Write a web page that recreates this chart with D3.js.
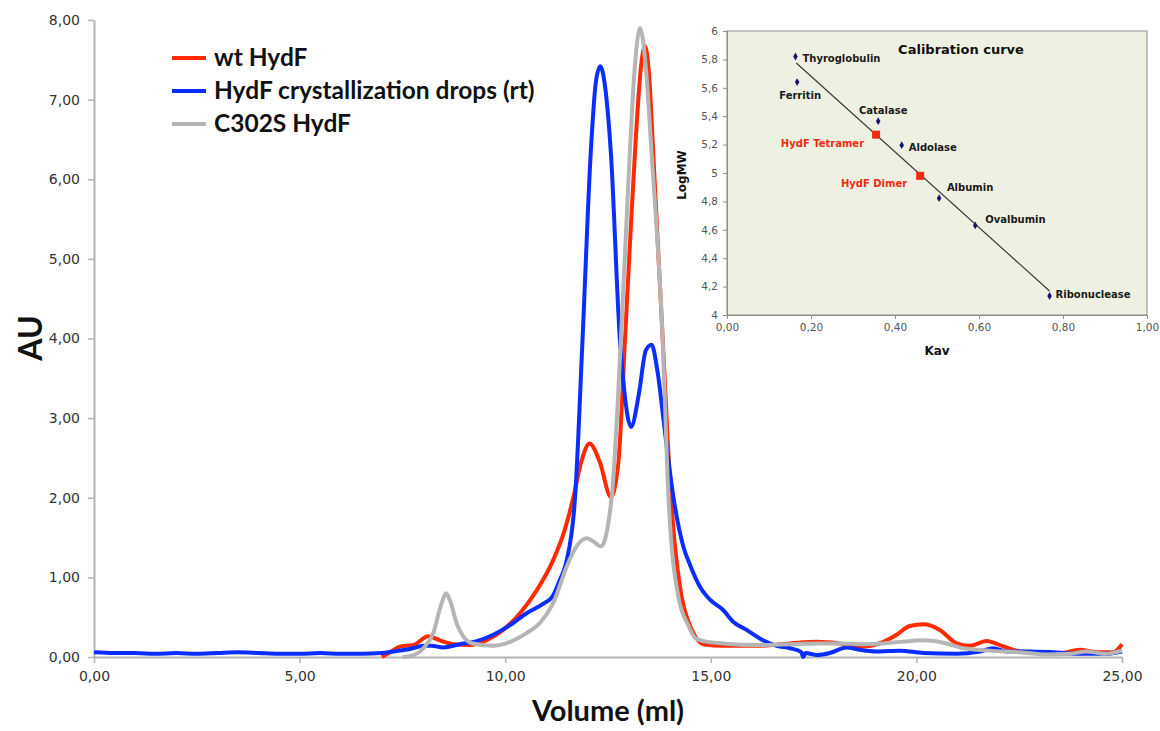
<!DOCTYPE html>
<html>
<head>
<meta charset="utf-8">
<script src="https://cdn.jsdelivr.net/npm/d3@7"></script>
<style>
  body { margin: 0; background: #fff; }
  text { font-family: "DejaVu Sans", Verdana, sans-serif; }
</style>
</head>
<body>
<svg id="viz" width="1160" height="731"></svg>
<script>
// chromatogram traces, [volume (ml), AU]
const wtHydF = [[7.0,0.0],[7.2,0.06],[7.44,0.13],[7.77,0.15],[8.13,0.26],[8.41,0.21],[8.74,0.16],[9.14,0.15],
  [9.55,0.21],[9.95,0.34],[10.36,0.55],[10.77,0.84],[11.17,1.22],[11.45,1.6],[11.66,2.01],[11.85,2.45],
  [12.05,2.68],[12.3,2.45],[12.57,2.01],[12.75,2.43],[12.92,4.05],[13.05,5.35],[13.18,6.55],[13.3,7.4],
  [13.4,7.67],[13.5,7.3],[13.6,6.33],[13.72,5.1],[13.83,4.0],[14.03,2.01],[14.29,0.76],[14.45,0.45],
  [14.62,0.26],[14.82,0.16],[15.3,0.14],[16.12,0.14],[16.93,0.17],[17.58,0.19],[18.14,0.17],[18.71,0.13],
  [19.1,0.17],[19.52,0.28],[19.84,0.39],[20.17,0.41],[20.57,0.34],[20.98,0.17],[21.3,0.14],[21.71,0.2],
  [22.03,0.15],[22.52,0.07],[23.0,0.05],[23.49,0.05],[23.98,0.09],[24.38,0.06],[24.79,0.06],[25.0,0.16]];

const dropsHydF = [[0,0.06],[0.5,0.05],[1,0.05],[1.5,0.04],[2,0.05],[2.5,0.04],[3,0.05],[3.5,0.06],[4,0.05],
  [4.5,0.04],[5,0.04],[5.5,0.05],[6,0.04],[6.5,0.04],[7,0.05],[7.28,0.07],[7.68,0.1],[8.01,0.14],[8.21,0.14],
  [8.49,0.12],[8.9,0.16],[9.31,0.2],[9.71,0.28],[10.12,0.4],[10.52,0.55],[10.93,0.67],[11.15,0.76],
  [11.33,0.97],[11.48,1.18],[11.7,2.01],[11.88,3.98],[12.08,6.33],[12.2,7.2],[12.31,7.42],[12.42,7.2],
  [12.57,6.33],[12.79,3.98],[12.87,3.48],[13.06,2.89],[13.25,3.3],[13.42,3.85],[13.56,3.92],[13.7,3.6],
  [13.88,2.85],[14.09,2.01],[14.33,1.39],[14.5,1.15],[14.74,0.88],[14.98,0.72],[15.3,0.59],[15.55,0.44],
  [15.87,0.34],[16.2,0.23],[16.6,0.14],[16.93,0.11],[17.2,0.06],[17.25,0.0],[17.3,0.05],[17.58,0.025],
  [17.9,0.05],[18.3,0.12],[18.63,0.09],[19.03,0.07],[19.6,0.08],[20.17,0.05],[20.98,0.04],[21.55,0.07],
  [21.87,0.11],[22.19,0.07],[22.76,0.07],[23.33,0.06],[23.98,0.04],[24.6,0.04],[25,0.07]];

const c302sHydF = [[7.5,0.0],[7.68,0.01],[8.01,0.11],[8.25,0.3],[8.45,0.67],[8.56,0.8],[8.67,0.69],[8.82,0.42],
  [8.98,0.26],[9.22,0.17],[9.71,0.14],[10.12,0.19],[10.52,0.3],[10.85,0.43],[11.17,0.68],[11.53,1.18],
  [11.75,1.4],[11.98,1.49],[12.15,1.45],[12.33,1.39],[12.59,2.01],[12.82,4.05],[13.03,6.33],[13.15,7.4],
  [13.28,7.9],[13.42,7.4],[13.56,6.33],[13.83,3.98],[13.97,2.01],[14.21,0.76],[14.45,0.4],[14.62,0.24],
  [14.82,0.2],[15.3,0.17],[16.12,0.15],[16.93,0.16],[17.58,0.17],[18.14,0.17],[18.71,0.16],[19.2,0.17],
  [19.6,0.19],[20.17,0.21],[20.65,0.18],[21.14,0.11],[21.79,0.08],[22.52,0.06],[23.17,0.03],[23.74,0.04],
  [24.14,0.07],[24.6,0.04],[25,0.08]];

const seriesNames = ["wt HydF", "HydF crystallization drops (rt)", "C302S HydF"];
const xTicks = [0, 5, 10, 15, 20, 25];
const yTicks = [0, 1, 2, 3, 4, 5, 6, 7, 8];

// calibration curve (inset)
const standardNames = ["Thyroglobulin", "Ferritin", "Catalase", "Aldolase", "Albumin", "Ovalbumin", "Ribonuclease"];
const standardKav = [0.163, 0.167, 0.36, 0.416, 0.505, 0.591, 0.768];
const standardLogMW = [5.82, 5.64, 5.365, 5.196, 4.823, 4.631, 4.134];
const hydfNames = ["HydF Tetramer", "HydF Dimer"];
const hydfKav = [0.355, 0.46];
const hydfLogMW = [5.27, 4.98];
const fitKav = [0.165, 0.768];
const fitLogMW = [5.775, 4.169];
const kavTicks = [0, 0.2, 0.4, 0.6, 0.8, 1.0];
const logTicks = [4, 4.2, 4.4, 4.6, 4.8, 5, 5.2, 5.4, 5.6, 5.8, 6];

// label placement for the inset (px from the point)
const standardLabelPos = [[7, 5, "start"], [3, 17, "middle"], [5, -7, "middle"], [7, 6, "start"],
  [31, -7, "middle"], [10, -2, "start"], [6, 2, "start"]];
const hydfLabelPos = [[-12, 12], [-13, 11]];

const comma = d => d3.format(".2f")(d).replace(".", ",");
const commaShort = d => String(d).replace(".", ",");

let svg = d3.select("#viz");

let x = d3.scaleLinear().domain([0, 25]).range([94, 1122]);
let y = d3.scaleLinear().domain([0, 8]).range([657, 20]);

// axes
let gx = svg.append("g").attr("transform", "translate(0,657)")
    .call(d3.axisBottom(x).tickValues(xTicks).tickFormat(comma).tickSize(6).tickSizeOuter(0).tickPadding(8));
let gy = svg.append("g").attr("transform", "translate(94,0)")
    .call(d3.axisLeft(y).tickValues(yTicks).tickFormat(comma).tickSize(6).tickSizeOuter(0).tickPadding(8));
[gx, gy].forEach(g => {
    g.select(".domain").attr("stroke", "#b3b3b3").attr("stroke-width", 2);
    g.selectAll(".tick line").attr("stroke", "#b3b3b3").attr("stroke-width", 1.5);
    g.selectAll(".tick text").attr("fill", "#333").style("font-size", "14px")
        .style("font-family", "'DejaVu Sans', Verdana, sans-serif");
});

svg.append("text")
    .attr("transform", "translate(42,338) rotate(-90)")
    .attr("text-anchor", "middle")
    .style("font-family", "Lato, 'Open Sans', sans-serif")
    .style("font-weight", "bold").style("font-size", "32px")
    .attr("fill", "#111").text("AU");

svg.append("text")
    .attr("x", 608).attr("y", 721)
    .attr("text-anchor", "middle")
    .style("font-family", "Lato, 'Open Sans', sans-serif")
    .style("font-weight", "bold").style("font-size", "29px")
    .attr("fill", "#111").text("Volume (ml)");

// traces
let line = d3.line()
    .x(d => x(d[0]))
    .y(d => y(d[1]))
    .curve(d3.curveMonotoneX);

let colors = ["#ff2a00", "#0a2eff", "#b5b5b5"];
let traces = [wtHydF, dropsHydF, c302sHydF];

svg.append("g").selectAll("path")
    .data(traces)
    .join("path")
    .attr("d", line)
    .attr("fill", "none")
    .attr("stroke", (d, i) => colors[i])
    .attr("stroke-width", 4)
    .attr("stroke-linejoin", "round");

// legend
let legend = svg.append("g").selectAll("g")
    .data(seriesNames)
    .join("g")
    .attr("transform", (d, i) => `translate(172,${58 + i * 33})`);
legend.append("line")
    .attr("x1", 0).attr("x2", 34)
    .attr("stroke", (d, i) => colors[i])
    .attr("stroke-width", 4);
legend.append("text")
    .attr("x", 42).attr("y", 8)
    .style("font-family", "Lato, 'Open Sans', sans-serif")
    .style("font-weight", "bold").style("font-size", "24.5px")
    .attr("fill", "#111")
    .text(d => d);

// inset calibration curve
let kx = d3.scaleLinear().domain([0, 1]).range([727, 1147]);
let ky = d3.scaleLinear().domain([4, 6]).range([315, 31]);

let inset = svg.append("g");
inset.append("rect")
    .attr("x", kx(0)).attr("y", ky(6))
    .attr("width", kx(1) - kx(0)).attr("height", ky(4) - ky(6))
    .attr("fill", "#eef1e2").attr("stroke", "#8e8e8e").attr("stroke-width", 1);

let ikx = inset.append("g").attr("transform", `translate(0,${ky(4)})`)
    .call(d3.axisBottom(kx).tickValues(kavTicks).tickFormat(comma).tickSize(4).tickSizeOuter(0).tickPadding(5));
let iky = inset.append("g").attr("transform", `translate(${kx(0)},0)`)
    .call(d3.axisLeft(ky).tickValues(logTicks).tickFormat(commaShort).tickSize(4).tickSizeOuter(0).tickPadding(5));
[ikx, iky].forEach(g => {
    g.select(".domain").attr("stroke", "#8e8e8e");
    g.selectAll(".tick line").attr("stroke", "#8e8e8e");
    g.selectAll(".tick text").attr("fill", "#555").style("font-size", "10.5px")
        .style("font-family", "'DejaVu Sans', Verdana, sans-serif");
});

inset.append("text")
    .attr("x", 961).attr("y", 54).attr("text-anchor", "middle")
    .style("font-weight", "bold").style("font-size", "13px").attr("fill", "#111")
    .text("Calibration curve");
inset.append("text")
    .attr("x", 937).attr("y", 355).attr("text-anchor", "middle")
    .style("font-weight", "bold").style("font-size", "12px").attr("fill", "#111")
    .text("Kav");
inset.append("text")
    .attr("transform", "translate(686,175) rotate(-90)").attr("text-anchor", "middle")
    .style("font-weight", "bold").style("font-size", "12px").attr("fill", "#111")
    .text("LogMW");

inset.append("line")
    .attr("x1", kx(fitKav[0])).attr("y1", ky(fitLogMW[0]))
    .attr("x2", kx(fitKav[1])).attr("y2", ky(fitLogMW[1]))
    .attr("stroke", "#3a3a3a").attr("stroke-width", 1.2);

let diamond = d3.symbol().type(d3.symbolDiamond).size(18);
inset.append("g").selectAll("path")
    .data(standardNames)
    .join("path")
    .attr("d", diamond)
    .attr("transform", (d, i) => `translate(${kx(standardKav[i])},${ky(standardLogMW[i])})`)
    .attr("fill", "#14146e");

inset.append("g").selectAll("text")
    .data(standardNames)
    .join("text")
    .attr("x", (d, i) => kx(standardKav[i]) + standardLabelPos[i][0])
    .attr("y", (d, i) => ky(standardLogMW[i]) + standardLabelPos[i][1])
    .attr("text-anchor", (d, i) => standardLabelPos[i][2])
    .style("font-weight", "bold").style("font-size", "10px").attr("fill", "#1a1a1a")
    .text(d => d);

inset.append("g").selectAll("rect")
    .data(hydfNames)
    .join("rect")
    .attr("x", (d, i) => kx(hydfKav[i]) - 4)
    .attr("y", (d, i) => ky(hydfLogMW[i]) - 4)
    .attr("width", 8).attr("height", 8)
    .attr("fill", "#ee2a12");

inset.append("g").selectAll("text")
    .data(hydfNames)
    .join("text")
    .attr("x", (d, i) => kx(hydfKav[i]) + hydfLabelPos[i][0])
    .attr("y", (d, i) => ky(hydfLogMW[i]) + hydfLabelPos[i][1])
    .attr("text-anchor", "end")
    .style("font-weight", "bold").style("font-size", "10px").attr("fill", "#ee2a12")
    .text(d => d);
</script>
</body>
</html>
